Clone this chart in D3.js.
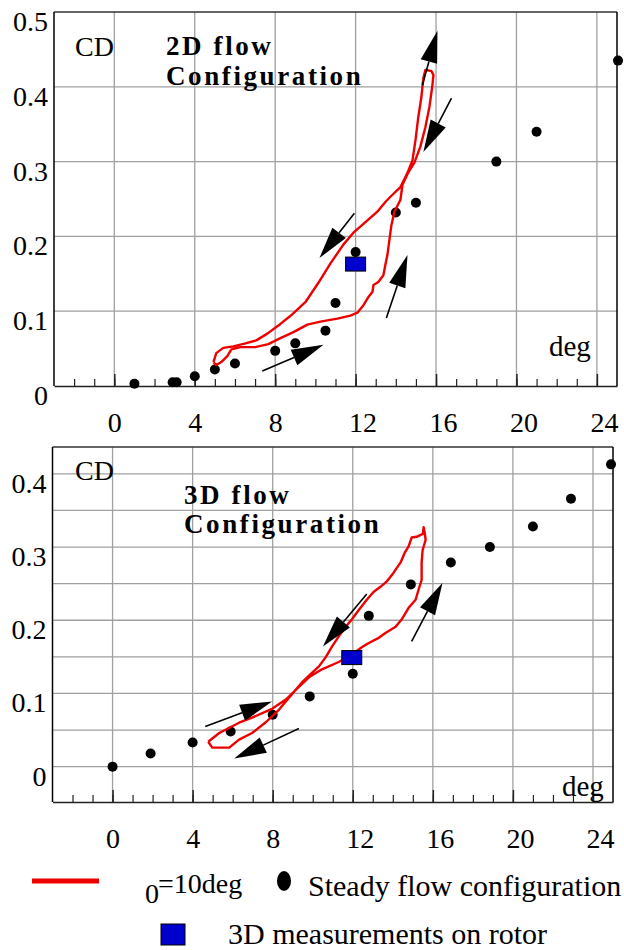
<!DOCTYPE html>
<html><head><meta charset="utf-8">
<script src="https://cdn.jsdelivr.net/npm/d3@7"></script>
<style>
body{margin:0;background:#fff}
svg{display:block}
text{font-family:"Liberation Serif","Times New Roman",serif;fill:#000}
</style>
</head><body>
<script>
// ---------- DATA ----------
const xTickLabels = [0, 4, 8, 12, 16, 20, 24];
const yTicks2D = [0, 0.1, 0.2, 0.3, 0.4, 0.5];
const yTickLabels2D = ["0", "0.1", "0.2", "0.3", "0.4", "0.5"];
const yTicks3D = [0, 0.1, 0.2, 0.3, 0.4];
const yTickLabels3D = ["0", "0.1", "0.2", "0.3", "0.4"];
const yGrid3D = [0, 0.05, 0.1, 0.15, 0.2, 0.25, 0.3, 0.35, 0.4];

// 2D steady flow (alpha deg, CD)
const steady2D_alpha = [1, 2.9, 3.1, 4, 5, 6, 8, 9, 10.5, 11, 12, 14, 15, 19, 21, 25.05];
const steady2D_cd    = [0.003, 0.005, 0.005, 0.013, 0.022, 0.030, 0.047, 0.057, 0.074, 0.111, 0.179, 0.232, 0.245, 0.300, 0.340, 0.435];

// 2D oscillating loop (theta = 10 deg)
const loop2D_alpha = [4.93,5.07,5.32,5.62,5.82,6.27,7.01,7.66,8.26,8.91,9.60,10.25,11.09,11.74,12.09,12.39,12.64,12.84,12.89,13.13,13.38,13.48,13.58,13.68,13.78,13.93,14.23,14.33,14.63,14.93,15.22,15.47,15.67,15.82,15.87,15.77,15.52,
  15.47,15.37,15.27,15.12,14.98,14.83,14.58,14.23,13.73,13.48,13.08,12.49,11.89,11.39,10.75,10.15,9.50,8.86,8.26,7.61,7.06,6.52,5.92,5.42,5.07,4.93];
const loop2D_cd = [0.032,0.028,0.032,0.040,0.049,0.052,0.052,0.056,0.064,0.072,0.082,0.086,0.090,0.094,0.098,0.108,0.119,0.126,0.135,0.139,0.148,0.162,0.175,0.195,0.215,0.233,0.249,0.269,0.286,0.299,0.320,0.346,0.373,0.402,0.416,0.421,0.4225,
  0.4225,0.412,0.386,0.360,0.329,0.302,0.285,0.266,0.253,0.246,0.233,0.219,0.205,0.189,0.164,0.138,0.112,0.096,0.083,0.070,0.061,0.057,0.053,0.051,0.044,0.032];

const rotor2D = [12, 0.163];

// 3D steady flow
const steady3D_alpha = [0, 1.9, 4, 5.9, 8, 9.85, 12, 12.8, 14.9, 16.9, 18.85, 21, 22.9, 24.9];
const steady3D_cd    = [0, 0.018, 0.033, 0.048, 0.071, 0.096, 0.127, 0.206, 0.249, 0.279, 0.300, 0.328, 0.366, 0.413];

// 3D oscillating loop
const loop3D_alpha = [4.78,5.33,6.32,6.97,7.97,8.67,9.31,9.81,10.46,11.30,11.95,12.45,12.80,13.30,13.65,14.14,14.44,14.79,15.14,15.29,15.44,15.44,15.49,15.64,15.59,15.54,15.50,
  15.19,14.94,14.79,14.59,14.39,14.04,13.70,13.40,13.05,12.70,12.30,11.95,11.65,11.30,10.96,10.66,10.31,9.96,9.46,8.90,8.32,7.67,6.97,6.32,5.83,4.98,4.78];
const loop3D_cd = [0.034,0.046,0.060,0.067,0.079,0.092,0.109,0.122,0.133,0.143,0.153,0.163,0.169,0.176,0.183,0.191,0.201,0.217,0.228,0.242,0.255,0.279,0.296,0.310,0.320,0.327,0.318,
  0.314,0.313,0.301,0.292,0.279,0.265,0.253,0.246,0.239,0.228,0.214,0.201,0.191,0.178,0.164,0.150,0.137,0.128,0.115,0.097,0.078,0.061,0.046,0.037,0.026,0.026,0.034];

const rotor3D = [11.95, 0.149];

// arrows [alpha0, cd0, alpha1, cd1]
const arrows2D = [[15.32,0.402,16.07,0.475],[16.77,0.385,15.37,0.313],[11.94,0.231,10.20,0.171],[13.53,0.091,14.58,0.175],[7.36,0.020,10.40,0.055]];
const arrows3D = [[4.63,0.055,7.97,0.089],[9.31,0.052,6.08,0.011],[12.70,0.236,10.51,0.164],[14.94,0.171,16.48,0.251]];

// ---------- DRAW ----------
const W = 624, H = 950;
const svg = d3.select("body").append("svg").attr("width", W).attr("height", H);

const RED = "#ee0000", BLUE = "#0000cc", GRID = "#a0a0a0";
const FF = '"Liberation Serif","Times New Roman",serif';

function drawPanel(p) {
  const x = d3.scaleLinear().domain([-3, 25]).range([p.left, p.right]);
  const y = d3.scaleLinear().domain(p.yDomain).range([p.bottom, p.top]);
  const g = svg.append("g");

  // grid
  g.selectAll(".hg").data(p.yGrid).enter().append("line")
    .attr("x1", p.left).attr("x2", p.right).attr("y1", d => y(d)).attr("y2", d => y(d))
    .attr("stroke", GRID).attr("stroke-width", 1.3);
  g.selectAll(".vg").data(xTickLabels).enter().append("line")
    .attr("x1", d => x(d)).attr("x2", d => x(d)).attr("y1", p.top).attr("y2", p.bottom)
    .attr("stroke", GRID).attr("stroke-width", 1.3);

  // frame
  g.append("line").attr("x1", p.left).attr("x2", p.right).attr("y1", p.top).attr("y2", p.top).attr("stroke", "#333").attr("stroke-width", 1.3);
  g.append("line").attr("x1", p.right).attr("x2", p.right).attr("y1", p.top).attr("y2", p.bottom).attr("stroke", "#000").attr("stroke-width", 1.5);
  g.append("line").attr("x1", p.left).attr("x2", p.left).attr("y1", p.top).attr("y2", p.bottom).attr("stroke", "#000").attr("stroke-width", 1.5);

  // bottom axis: minor + major ticks
  const minor = d3.axisBottom(x).tickValues(d3.range(-2, 25)).tickSizeInner(-7).tickSizeOuter(0).tickFormat("");
  const ga = g.append("g").attr("transform", `translate(0,${p.bottom})`).call(minor);
  ga.select(".domain").attr("stroke", "#222").attr("stroke-width", 1.5);
  ga.selectAll(".tick line").attr("stroke", "#222").attr("stroke-width", 1.2);
  const major = d3.axisBottom(x).tickValues(xTickLabels).tickSizeInner(-12).tickSizeOuter(0).tickPadding(0).tickFormat(d3.format("d"));
  const gm = g.append("g").attr("transform", `translate(0,${p.bottom})`).call(major);
  gm.attr("font-family", FF);
  gm.select(".domain").remove();
  gm.selectAll(".tick line").attr("stroke", "#222").attr("stroke-width", 1.5);
  gm.selectAll(".tick text").attr("font-size", 28).attr("text-anchor", "start").attr("dx", -7)
    .attr("y", 0).attr("dy", p.xLabelDy).attr("fill", "#000");

  // y labels
  g.selectAll(".yl").data(p.yTicks).enter().append("text")
    .attr("x", p.left - 6).attr("y", d => y(d) + 19).attr("text-anchor", "end")
    .attr("font-size", 28).text((d, i) => p.yLabels[i]);

  // texts
  g.append("text").attr("x", 75).attr("y", p.cdY).attr("font-size", 28).text("CD");
  g.append("text").attr("x", p.degX).attr("y", p.degY).attr("font-size", 29).text("deg");
  const t = g.append("text").attr("x", p.titleX).attr("y", p.titleY).attr("font-size", 27)
    .attr("font-weight", "bold").attr("letter-spacing", 2.6);
  t.append("tspan").attr("x", p.titleX).text(p.title1);
  t.append("tspan").attr("x", p.titleX).attr("dy", p.titleGap).text("Configuration");

  // steady dots
  g.selectAll(".dot").data(p.dotsX).enter().append("ellipse")
    .attr("cx", d => x(d)).attr("cy", (d, i) => y(p.dotsY[i]))
    .attr("rx", 5).attr("ry", 5).attr("fill", "#000");

  // loop
  const pts = p.loopX.map((a, i) => [a, p.loopY[i]]);
  g.append("path").attr("d", d3.line().x(d => x(d[0])).y(d => y(d[1]))(pts))
    .attr("fill", "none").attr("stroke", RED).attr("stroke-width", 2.4).attr("stroke-linejoin", "round");

  // rotor
  g.append("rect").attr("x", x(p.rotor[0]) - 10).attr("y", y(p.rotor[1]) - 7)
    .attr("width", 20).attr("height", 14).attr("fill", BLUE).attr("stroke", "#000").attr("stroke-width", 1);

  // arrows
  p.arrows.forEach(a => {
    const x0 = x(a[0]), y0 = y(a[1]), x1 = x(a[2]), y1 = y(a[3]);
    const dx = x1 - x0, dy = y1 - y0, L = Math.hypot(dx, dy);
    const ux = dx / L, uy = dy / L, hl = 32, hw = 8.5;
    const bx = x1 - ux * hl, by = y1 - uy * hl;
    g.append("line").attr("x1", x0).attr("y1", y0).attr("x2", bx).attr("y2", by)
      .attr("stroke", "#000").attr("stroke-width", 1.6);
    g.append("path").attr("d", d3.line()([[x1, y1], [bx - uy * hw, by + ux * hw], [bx + uy * hw, by - ux * hw]]) + "Z")
      .attr("fill", "#000");
  });
}

drawPanel({
  left: 54, right: 617, top: 12, bottom: 386, yDomain: [0, 0.5],
  yGrid: [0.1, 0.2, 0.3, 0.4], yTicks: yTicks2D, yLabels: yTickLabels2D,
  xLabelDy: 46, cdY: 56, degX: 549, degY: 356, titleX: 166, titleY: 55, titleGap: 30, title1: "2D flow",
  dotsX: steady2D_alpha, dotsY: steady2D_cd, loopX: loop2D_alpha, loopY: loop2D_cd, rotor: rotor2D, arrows: arrows2D
});
drawPanel({
  left: 52.5, right: 613, top: 447, bottom: 802, yDomain: [-0.0483, 0.4367],
  yGrid: yGrid3D, yTicks: yTicks3D, yLabels: yTickLabels3D,
  xLabelDy: 46, cdY: 480, degX: 562, degY: 796, titleX: 184, titleY: 504, titleGap: 29, title1: "3D flow",
  dotsX: steady3D_alpha, dotsY: steady3D_cd, loopX: loop3D_alpha, loopY: loop3D_cd, rotor: rotor3D, arrows: arrows3D
});

// legend
const lg = svg.append("g");
lg.append("line").attr("x1", 32).attr("x2", 99).attr("y1", 881).attr("y2", 881).attr("stroke", RED).attr("stroke-width", 5);
lg.append("text").attr("x", 145).attr("y", 903).attr("font-size", 28).text("0");
lg.append("text").attr("x", 158).attr("y", 893).attr("font-size", 28).text("=10deg");
lg.append("ellipse").attr("cx", 284).attr("cy", 881).attr("rx", 7).attr("ry", 10).attr("fill", "#000");
lg.append("text").attr("x", 308).attr("y", 896).attr("font-size", 30).text("Steady flow configuration");
lg.append("rect").attr("x", 161).attr("y", 924).attr("width", 24).attr("height", 21).attr("fill", BLUE).attr("stroke", "#000").attr("stroke-width", 1);
lg.append("text").attr("x", 228).attr("y", 944).attr("font-size", 30).text("3D measurements on rotor");
</script>
</body></html>
